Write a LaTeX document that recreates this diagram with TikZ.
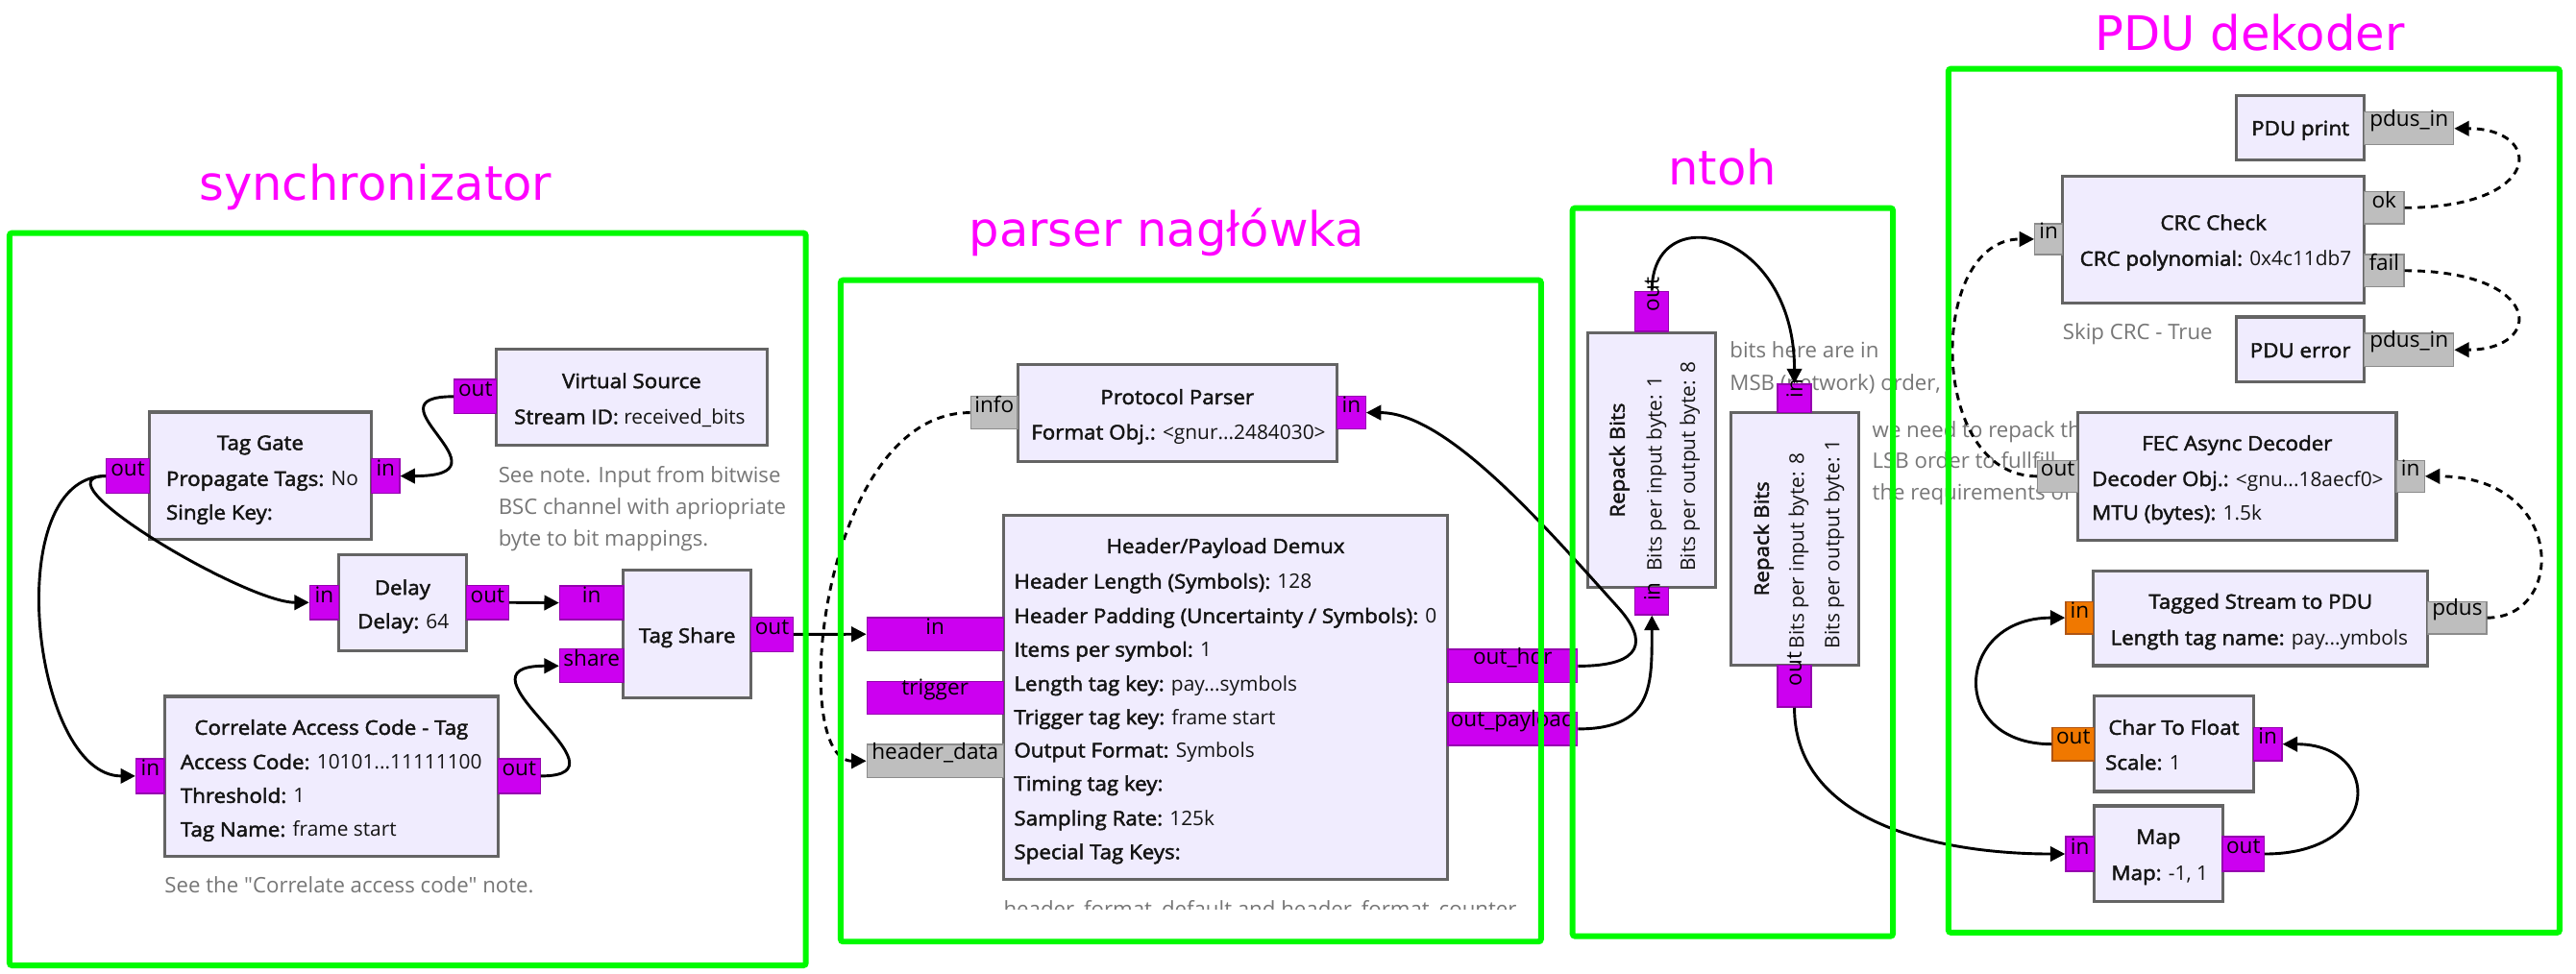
\documentclass[tikz,border=0pt]{standalone}
\usepackage{fontspec}
\usepackage{graphicx}
\usetikzlibrary{arrows.meta,fit}
\newfontfamily\grcfont{Open Sans}[BoldFont={Open Sans}, BoldFeatures={FakeBold=2.2, FakeStretch=1.07}]
\newfontfamily\grptitlefont{DejaVu Sans}
\definecolor{blockfill}{RGB}{240,236,254}
\definecolor{blockdraw}{RGB}{100,100,100}
\definecolor{bytefill}{RGB}{204,0,240}
\definecolor{bytedraw}{RGB}{150,0,175}
\definecolor{msgfill}{RGB}{190,190,190}
\definecolor{msgdraw}{RGB}{140,140,140}
\definecolor{fltfill}{RGB}{240,120,0}
\definecolor{fltdraw}{RGB}{175,85,20}
\definecolor{framegreen}{RGB}{0,250,0}
\definecolor{grpmag}{RGB}{255,0,255}
\definecolor{notegray}{RGB}{118,118,118}
\definecolor{blocktext}{RGB}{20,20,20}
\newcommand{\gfs}{\grcfont\fontsize{12.2}{14}\selectfont}
\newcommand{\pfs}{\grcfont\fontsize{13.2}{15}\selectfont}
\newcommand{\nfs}{\grcfont\fontsize{13}{15}\selectfont}
\begin{document}
\begin{tikzpicture}[x=1pt,y=-1pt,
  blk/.style={draw=blockdraw, fill=blockfill, line width=1.8pt, inner sep=0pt},
  ttl/.style={font=\gfs\bfseries, text=blocktext, inner sep=0pt, text height=8.7pt, text depth=0pt},
  prm/.style={font=\gfs, text=blocktext, inner sep=0pt, text height=8.7pt, text depth=0pt, anchor=west},
  prt/.style={line width=0.8pt, inner sep=0pt, font=\pfs, text=black},
  lbl/.style={text height=10.8pt, text depth=0pt},
  bp/.style={prt, lbl, draw=bytedraw, fill=bytefill},
  rbp/.style={prt, draw=bytedraw, fill=bytefill},
  mp/.style={prt, lbl, draw=msgdraw, fill=msgfill},
  fp/.style={prt, lbl, draw=fltdraw, fill=fltfill},
  cn/.style={line width=1.7pt, -{Triangle[length=9pt,width=9pt]}},
  mcn/.style={cn, dash pattern=on 4.5pt off 3.5pt},
  grpframe/.style={draw=framegreen, line width=3.5pt, rounded corners=1.5pt},
  grptitle/.style={font=\grptitlefont\fontsize{29}{34}\selectfont, text=grpmag, anchor=base, inner sep=0pt},
  notetext/.style={font=\nfs, text=notegray, anchor=west, inner sep=0pt, text height=9.2pt, text depth=0pt},
  notewide/.style={font=\nfs, text=notegray, anchor=west, inner sep=0pt, text height=9.3pt, text depth=0pt},
]
\useasboundingbox (0,0) rectangle (1568,593);

% ---------- notes (drawn first) ----------
\node[notetext] (n1a) at (303.2,289.5) {See note. Input from bitwise};
\node[notetext] (n1b) at (303.2,308.6) {BSC channel with apriopriate};
\node[notetext] (n1c) at (303.2,327.6) {byte to bit mappings.};
\node[notetext] (n2) at (100.1,539.1) {See the "Correlate access code" note.};
\begin{scope}
  \clip (600,540) rectangle (936,553.8);
  \node[font=\nfs, text=notegray, anchor=base west, inner sep=0pt] (n3) at (610.7,558) {header\_format\_default and header\_format\_counter};
\end{scope}
\node[notewide] (n4a) at (1052.8,213.5) {bits here are in};
\node[notewide] (n4b) at (1052.8,233) {MSB (network) order,};
\node[notewide] (n5a) at (1139.5,261.8) {we need to repack them};
\node[notewide] (n5b) at (1139.5,280.7) {LSB order to fullfill};
\node[notewide] (n5c) at (1139.5,299.8) {the requirements of};
\node[notetext] (n6) at (1255.4,202.4) {Skip CRC - True};

% ---------- blocks ----------
\node[blk, fit={(302.2,212.5) (466.8,271)}] (vs) {};
\node[blk, fit={(90.8,250.9) (226.2,328.5)}] (tg) {};
\node[blk, fit={(206,337.7) (283.9,396.2)}] (dl) {};
\node[blk, fit={(379.5,347) (457.1,425)}] (tsh) {};
\node[blk, fit={(100.1,424) (303.2,521.5)}] (cor) {};
\node[blk, fit={(619.4,221.7) (813.8,280.8)}] (pp) {};
\node[blk, fit={(610.7,313.6) (881.3,535.2)}] (dm) {};
\node[blk, fit={(966.4,202.7) (1044.4,357.7)}] (rb1) {};
\node[blk, fit={(1053.4,251.1) (1131.3,405)}] (rb2) {};
\node[blk, fit={(1361.3,58.3) (1439.2,97.6)}] (prn) {};
\node[blk, fit={(1255.4,107.4) (1439.2,184.3)}] (crc) {};
\node[blk, fit={(1361.3,193) (1439.2,232.3)}] (err) {};
\node[blk, fit={(1264.8,251.1) (1458.6,328.8)}] (fec) {};
\node[blk, fit={(1274.2,347.6) (1477.8,405.3)}] (tsp) {};
\node[blk, fit={(1274.7,423.6) (1371.7,481.9)}] (ctf) {};
\node[blk, fit={(1274.7,490.7) (1352.8,549.1)}] (map) {};

% ---------- ports ----------
\node[bp, fit={(276.5,231) (302.2,251.9)}] (vsout) {out};
\node[bp, fit={(64.8,279.4) (90.8,300.3)}] (tgout) {out};
\node[bp, fit={(226.2,279.4) (243.2,300.3)}] (tgin) {in};
\node[bp, fit={(188.6,356.4) (206,377.3)}] (dlin) {in};
\node[bp, fit={(283.9,356.4) (309.6,377.3)}] (dlout) {out};
\node[bp, fit={(340.7,356.8) (379.5,377.3)}] (tsin) {in};
\node[bp, fit={(340.7,395.2) (379.5,415.7)}] (tsshare) {share};
\node[bp, fit={(457.1,375.7) (482.8,396.8)}] (tsout) {out};
\node[bp, fit={(82.8,462) (100.1,483)}] (corin) {in};
\node[bp, fit={(303.2,462) (328.8,483)}] (corout) {out};
\node[mp, fit={(590.9,241.2) (619.4,261.3)}] (ppinfo) {info};
\node[bp, fit={(813.8,241.2) (831.2,261.3)}] (ppin) {in};
\node[bp, fit={(527.7,376) (610.7,396.3)}] (dmin) {in};
\node[bp, fit={(527.7,414.9) (610.7,434.8)}] (dmtrig) {trigger};
\node[mp, fit={(527.7,453.3) (610.7,473.4)}] (dmhd) {header\_data};
\node[bp, fit={(881.3,395.4) (960.2,415.7)}] (dmhdr) {out\_hdr};
\node[bp, fit={(881.3,433.8) (960.2,453.9)}] (dmpay) {out\_payload};
\node[rbp, fit={(995.3,177.4) (1015.7,201.8)}] (rb1out) {\rotatebox{90}{out}};
\node[rbp, fit={(995.3,357.7) (1015.7,374.3)}] (rb1in) {\rotatebox{90}{in}};
\node[rbp, fit={(1082,233.9) (1102.5,251.1)}] (rb2in) {\rotatebox{90}{in}};
\node[rbp, fit={(1082,405) (1102.5,430.5)}] (rb2out) {\rotatebox{90}{out}};
\node[mp, fit={(1439.2,68.3) (1493.5,88.2)}] (prnin) {pdus\_in};
\node[mp, fit={(1238.6,136.2) (1255.4,155)}] (crcin) {in};
\node[mp, fit={(1439.2,116.8) (1463.2,136.2)}] (crcok) {ok};
\node[mp, fit={(1439.2,155) (1463.2,174.6)}] (crcfail) {fail};
\node[mp, fit={(1439.2,203) (1493.5,223)}] (errin) {pdus\_in};
\node[mp, fit={(1240.3,280.4) (1264.8,299.6)}] (fecout) {out};
\node[mp, fit={(1458.6,280.4) (1475.7,299.6)}] (fecin) {in};
\node[fp, fit={(1257.4,366.3) (1274.2,386)}] (tspin) {in};
\node[mp, fit={(1477.8,366.3) (1513.6,386)}] (tsppdus) {pdus};
\node[fp, fit={(1249.3,443) (1274.7,463.2)}] (ctfout) {out};
\node[bp, fit={(1371.7,443) (1389,463.2)}] (ctfin) {in};
\node[bp, fit={(1257.4,509.5) (1274.7,530.4)}] (mapin) {in};
\node[bp, fit={(1352.8,509.5) (1378.2,530.4)}] (mapout) {out};

% ---------- connections (node to node) ----------
\draw[cn] (vsout.west) .. controls +(-56,0) and +(72,0) .. (tgin.east);
\draw[cn] (tgout.west) .. controls +(-45,0) and +(-39,0) .. (dlin.west);
\draw[cn] (tgout.west) .. controls +(-65,0) and +(-63,0) .. (corin.west);
\draw[cn] (dlout.east) -- (tsin.west);
\draw[cn] (corout.east) .. controls +(60,0) and +(-70,0) .. (tsshare.west);
\draw[cn] (tsout.east) -- (dmin.west);
\draw[mcn] (ppinfo.west) .. controls +(-91,0) and +(-48,0) .. (dmhd.west);
\coordinate (hdrbend) at (985,370);
\draw[cn] (dmhdr.east) .. controls +(40,0) and +(18,20) .. (hdrbend) .. controls +(-45,-50) and +(49,0) .. (ppin.east);
\draw[cn] (dmpay.east) .. controls +(46,0) and +(0,42) .. (rb1in.south);
\draw[cn] (rb1out.north) .. controls +(0,-57) and +(0,-94) .. (rb2in.north);
\draw[cn] (rb2out.south) .. controls +(0,70) and +(-77,0) .. (mapin.west);
\draw[cn] (mapout.east) .. controls +(72,0) and +(61,0) .. (ctfin.east);
\draw[cn] (ctfout.west) .. controls +(-64,0) and +(-67,0) .. (tspin.west);
\draw[mcn] (tsppdus.east) .. controls +(48,0) and +(86,0) .. (fecin.east);
\draw[mcn] (fecout.west) .. controls +(-67,0) and +(-65,0) .. (crcin.west);
\draw[mcn] (crcok.east) .. controls +(85,0) and +(55,0) .. (prnin.east);
\draw[mcn] (crcfail.east) .. controls +(85,0) and +(55,0) .. (errin.east);

% ---------- block texts ----------
\node[ttl] (vst) at (384.5,232) {Virtual Source};
\node[prm] (vsp) at (312.8,253.8) {\textbf{Stream ID:} received\_bits};
\node[ttl] (tgt) at (158.5,269.6) {Tag Gate};
\node[prm] (tgp1) at (101,291.5) {\textbf{Propagate Tags:} No};
\node[prm] (tgp2) at (101,312) {\textbf{Single Key:}};
\node[ttl] (dlt) at (245,357.8) {Delay};
\node[prm] (dlp) at (217.5,378.3) {\textbf{Delay:} 64};
\node[ttl] (tsht) at (418.3,387) {Tag Share};
\node[ttl] (cort) at (201.7,443) {Correlate Access Code - Tag};
\node[prm] (corp1) at (109.7,464) {\textbf{Access Code:} 10101...11111100};
\node[prm] (corp2) at (109.7,484.5) {\textbf{Threshold:} 1};
\node[prm] (corp3) at (109.7,505) {\textbf{Tag Name:} frame start};
\node[ttl] (ppt) at (716.6,241.8) {Protocol Parser};
\node[prm] (ppp) at (627.5,263.2) {\textbf{Format Obj.:} <gnur...2484030>};
\node[ttl] (dmt) at (746,332.5) {Header/Payload Demux};
\node[prm] (dmp1) at (617.1,354) {\textbf{Header Length (Symbols):} 128};
\node[prm] (dmp2) at (617.1,375) {\textbf{Header Padding (Uncertainty / Symbols):} 0};
\node[prm] (dmp3) at (617.1,395.5) {\textbf{Items per symbol:} 1};
\node[prm] (dmp4) at (617.1,416.3) {\textbf{Length tag key:} pay...symbols};
\node[prm] (dmp5) at (617.1,436.7) {\textbf{Trigger tag key:} frame start};
\node[prm] (dmp6) at (617.1,456.8) {\textbf{Output Format:} Symbols};
\node[prm] (dmp7) at (617.1,477.1) {\textbf{Timing tag key:}};
\node[prm] (dmp8) at (617.1,498.2) {\textbf{Sampling Rate:} 125k};
\node[prm] (dmp9) at (617.1,518.7) {\textbf{Special Tag Keys:}};
\node[ttl, rotate=90] (rb1t) at (984.5,280.2) {Repack Bits};
\node[prm, rotate=90] (rb1p1) at (1007,348) {Bits per input byte: 1};
\node[prm, rotate=90] (rb1p2) at (1027.4,348) {Bits per output byte: 8};
\node[ttl, rotate=90] (rb2t) at (1072.3,328) {Repack Bits};
\node[prm, rotate=90] (rb2p1) at (1093.7,395) {Bits per input byte: 8};
\node[prm, rotate=90] (rb2p2) at (1115.2,395) {Bits per output byte: 1};
\node[ttl] (prnt) at (1400.2,78.1) {PDU print};
\node[ttl] (crct) at (1347.3,135.6) {CRC Check};
\node[prm] (crcp) at (1265.8,157.5) {\textbf{CRC polynomial:} 0x4c11db7};
\node[ttl] (errt) at (1400.2,213.3) {PDU error};
\node[ttl] (fect) at (1361.7,269.9) {FEC Async Decoder};
\node[prm] (fecp1) at (1273.1,291.6) {\textbf{Decoder Obj.:} <gnu...18aecf0>};
\node[prm] (fecp2) at (1273.1,312.1) {\textbf{MTU (bytes):} 1.5k};
\node[ttl] (tspt) at (1376,366.3) {Tagged Stream to PDU};
\node[prm] (tspp) at (1284.5,388.3) {\textbf{Length tag name:} pay...ymbols};
\node[ttl] (ctft) at (1323.2,443) {Char To Float};
\node[prm] (ctfp) at (1281.3,464.3) {\textbf{Scale:} 1};
\node[ttl] (mapt) at (1313.8,509.5) {Map};
\node[prm] (mapp) at (1285,531.5) {\textbf{Map:} -1, 1};

% ---------- group frames and titles ----------
\draw[grpframe] (5.8,141.9) rectangle (490.5,587.8);
\draw[grpframe] (511.7,170.6) rectangle (938,573.3);
\draw[grpframe] (957.2,126.7) rectangle (1152.2,570);
\draw[grpframe] (1186,41.9) rectangle (1558,567.8);
\node[grptitle] (g1) at (228.5,122) {synchronizator};
\node[grptitle] (g2) at (710.2,149.8) {parser nagłówka};
\node[grptitle] (g3) at (1048.4,112.7) {ntoh};
\node[grptitle] (g4) at (1369.5,30.5) {PDU dekoder};
\end{tikzpicture}
\end{document}
